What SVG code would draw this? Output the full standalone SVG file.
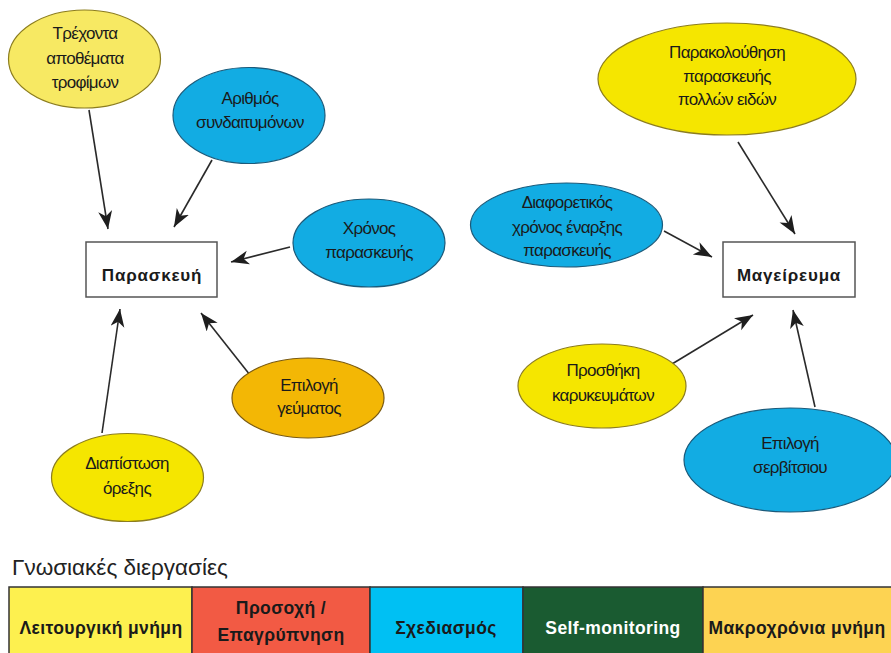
<svg xmlns="http://www.w3.org/2000/svg" width="891" height="653" viewBox="0 0 891 653">
<defs>
<style>
.t{font-family:"Liberation Sans","Arial",sans-serif;font-size:17px;fill:#1a1a1a;text-anchor:middle;letter-spacing:-0.7px}
.b{font-family:"Liberation Sans","Arial",sans-serif;font-size:17px;font-weight:bold;fill:#1a1a1a;text-anchor:middle;letter-spacing:0.8px}
.c{font-family:"Liberation Sans","Arial",sans-serif;font-size:17.5px;font-weight:bold;fill:#1a1a1a;text-anchor:middle;letter-spacing:0.4px}
.yl{fill:#f7e963;stroke:#8c7d1e;stroke-width:1.2}
.yb{fill:#f5e600;stroke:#8c7d1e;stroke-width:1.2}
.bl{fill:#12ace3;stroke:#1b5a7a;stroke-width:1.2}
.or{fill:#f3b705;stroke:#7a5a10;stroke-width:1.2}
.box{fill:#fff;stroke:#555;stroke-width:1.5}
.ln{stroke:#2a2a2a;stroke-width:1.6;fill:none;marker-end:url(#ah)}
.cell{stroke:#333;stroke-width:1.5}
</style>
<marker id="ah" markerUnits="userSpaceOnUse" markerWidth="20" markerHeight="16" refX="18" refY="7" orient="auto">
<path d="M0,0 L18,7 L0,14 L5,7 z" fill="#1e1e1e"/>
</marker>
</defs>
<rect width="891" height="653" fill="#fff"/>

<g id="connectors">
<line class="ln" x1="89" y1="110" x2="108" y2="229"/>
<line class="ln" x1="212" y1="160" x2="174" y2="227"/>
<line class="ln" x1="290" y1="247" x2="231" y2="262"/>
<line class="ln" x1="102" y1="433" x2="120" y2="309"/>
<line class="ln" x1="250" y1="375" x2="201" y2="313"/>
<line class="ln" x1="738" y1="142" x2="795" y2="234"/>
<line class="ln" x1="664" y1="231" x2="712" y2="257"/>
<line class="ln" x1="672" y1="364" x2="753" y2="315"/>
<line class="ln" x1="815" y1="407" x2="793" y2="310"/>
</g>

<g id="n-trexonta">
<ellipse class="yl" cx="84.5" cy="59" rx="76" ry="49"/>
<text class="t" x="85" y="39">Τρέχοντα</text>
<text class="t" x="85" y="64">αποθέματα</text>
<text class="t" x="85" y="88">τροφίμων</text>
</g>
<g id="n-arithmos">
<ellipse class="bl" cx="249" cy="115.5" rx="76" ry="48"/>
<text class="t" x="250" y="104">Αριθμός</text>
<text class="t" x="250" y="128">συνδαιτυμόνων</text>
</g>
<g id="n-xronos">
<ellipse class="bl" cx="369" cy="243" rx="76" ry="44"/>
<text class="t" x="369" y="234">Χρόνος</text>
<text class="t" x="369" y="258">παρασκευής</text>
</g>
<g id="n-paraskeui">
<rect class="box" x="86" y="242" width="131" height="55"/>
<text class="b" x="152" y="281">Παρασκευή</text>
</g>
<g id="n-epilogi-geumatos">
<ellipse class="or" cx="308" cy="398" rx="76" ry="40"/>
<text class="t" x="309" y="391">Επιλογή</text>
<text class="t" x="309" y="414">γεύματος</text>
</g>
<g id="n-diapistosi">
<ellipse class="yb" cx="127.5" cy="477.5" rx="76" ry="44"/>
<text class="t" x="127" y="469">Διαπίστωση</text>
<text class="t" x="127" y="494">όρεξης</text>
</g>

<g id="n-parakolouthisi">
<ellipse class="yb" cx="727" cy="79" rx="129" ry="56"/>
<text class="t" x="727" y="58">Παρακολούθηση</text>
<text class="t" x="727" y="82">παρασκευής</text>
<text class="t" x="727" y="105">πολλών ειδών</text>
</g>
<g id="n-diaforetikos">
<ellipse class="bl" cx="566.5" cy="225" rx="96" ry="42"/>
<text class="t" x="567" y="208">Διαφορετικός</text>
<text class="t" x="567" y="233">χρόνος έναρξης</text>
<text class="t" x="567" y="256">παρασκευής</text>
</g>
<g id="n-mageireuma">
<rect class="box" x="723" y="242" width="132" height="55"/>
<text class="b" x="789" y="281">Μαγείρευμα</text>
</g>
<g id="n-prosthiki">
<ellipse class="yb" cx="602" cy="386" rx="84" ry="42"/>
<text class="t" x="603" y="376">Προσθήκη</text>
<text class="t" x="603" y="401">καρυκευμάτων</text>
</g>
<g id="n-servitsio">
<ellipse class="bl" cx="790" cy="460" rx="106" ry="52"/>
<text class="t" x="790" y="449">Επιλογή</text>
<text class="t" x="790" y="473">σερβίτσιου</text>
</g>

<g id="legend">
<text x="12" y="575" style="font-family:'Liberation Sans',Arial,sans-serif;font-size:22.5px;fill:#222">Γνωσιακές διεργασίες</text>
<rect class="cell" x="9" y="587" width="183" height="70" fill="#fdf04f"/>
<rect class="cell" x="192" y="587" width="178" height="70" fill="#f25a44"/>
<rect class="cell" x="370" y="587" width="153" height="70" fill="#00c0f3"/>
<rect class="cell" x="523" y="587" width="180" height="70" fill="#1a5b31"/>
<rect class="cell" x="703" y="587" width="192" height="70" fill="#fdd352"/>
<text class="c" x="101" y="634">Λειτουργική μνήμη</text>
<text class="c" x="281" y="614">Προσοχή /</text>
<text class="c" x="281" y="641">Επαγρύπνηση</text>
<text class="c" x="446" y="634">Σχεδιασμός</text>
<text class="c" x="613" y="634" style="fill:#fff">Self-monitoring</text>
<text class="c" x="797" y="634">Μακροχρόνια μνήμη</text>
</g>
</svg>
